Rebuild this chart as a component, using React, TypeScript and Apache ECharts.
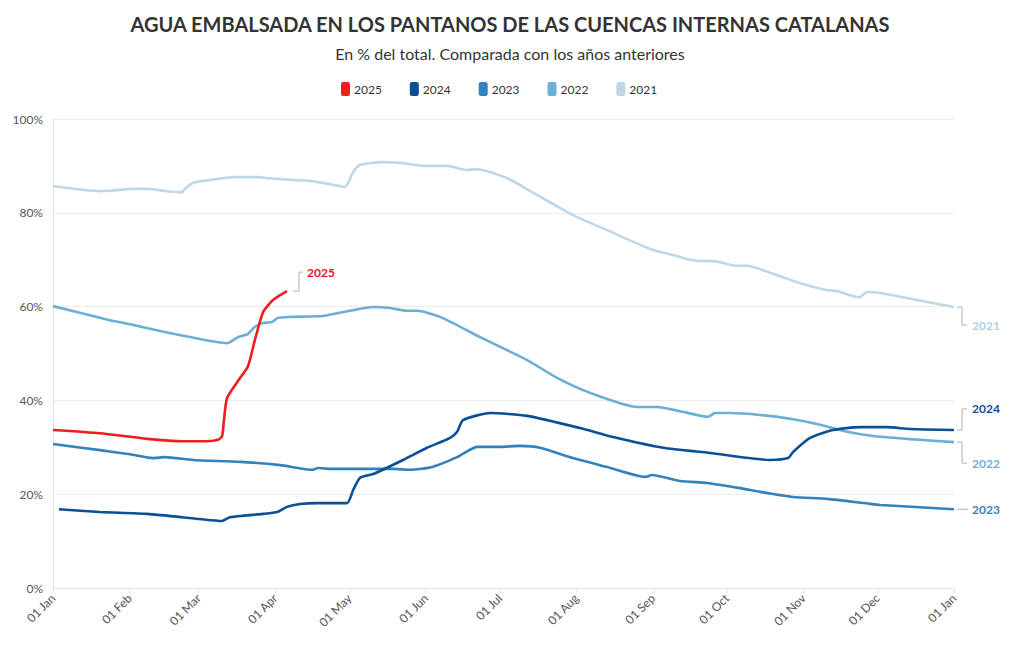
import React, { useEffect, useRef } from "react";
import * as echarts from "echarts";

const MONTH_TICKS = [0, 31, 59, 90, 120, 151, 181, 212, 243, 273, 304, 334, 365];
const MONTH_LABELS = ["01 Jan", "01 Feb", "01 Mar", "01 Apr", "01 May", "01 Jun", "01 Jul", "01 Aug", "01 Sep", "01 Oct", "01 Nov", "01 Dec", "01 Jan"];
const Y_TICKS = [0, 20, 40, 60, 80, 100];

const YEARS = ["2025", "2024", "2023", "2022", "2021"];
const COLORS: Record<string, string> = {
  "2025": "#ee1c1c",
  "2024": "#0b4f96",
  "2023": "#3182bd",
  "2022": "#6baed6",
  "2021": "#bdd7e7",
};
const LABEL_COLORS: Record<string, string> = {
  "2025": "#e8141a",
  "2024": "#0b4f96",
  "2023": "#3182bd",
  "2022": "#6baed6",
  "2021": "#b3cfe3",
};

// [day of year, % of total]
const DATA_2021: [number, number][] = [
  [0, 85.7], [19, 84.6], [23, 84.7], [32.4, 85.1], [38.1, 85.1], [46.2, 84.6], [52.3, 84.4], [53.5, 85.1],
  [56.7, 86.4], [66.5, 87.2], [72.9, 87.6], [83.9, 87.6], [86.7, 87.4], [97.2, 87.0], [104.1, 86.8],
  [112.2, 86.1], [118.3, 85.5], [121.6, 88.7], [124.4, 90.2], [133.7, 90.8], [141.8, 90.6], [149.9, 90.0],
  [159.6, 90.0], [167.7, 89.1], [171.8, 89.3], [184, 87.4], [196.1, 83.8], [210.7, 79.5], [224.5, 76.3],
  [241.9, 72.3], [254, 70.6], [256.9, 70.1], [263.4, 69.7], [267.5, 69.7], [277.1, 68.7], [281.2, 68.7],
  [291.7, 67.0], [302.7, 65.0], [313.6, 63.5], [317.7, 63.3], [326.6, 62.0], [329.8, 63.1], [335.1, 62.9],
  [344.4, 62.0], [365, 59.9],
];

const DATA_2022: [number, number][] = [
  [0, 60.1], [23.1, 57.1], [32.4, 56.1], [43.4, 54.8], [55.5, 53.5], [70.5, 52.2], [75, 53.5], [79, 54.2],
  [81.8, 55.7], [85.1, 56.5], [88.7, 56.7], [91.2, 57.6], [96, 57.8], [109.4, 58.0], [115.1, 58.6],
  [120.3, 59.1], [129.7, 59.9], [136.5, 59.7], [143.4, 59.1], [147.5, 59.1], [156.8, 57.8], [173, 53.5],
  [192.1, 48.6], [204.2, 44.8], [217.6, 41.6], [236.6, 38.6], [244.7, 38.6], [254, 37.7], [265.4, 36.5],
  [268.2, 37.3], [274.3, 37.3], [286.5, 36.9], [299.8, 36.0], [310.8, 34.8], [321.7, 33.3], [332.3, 32.4],
  [346, 31.8], [365, 31.1],
];

const DATA_2023: [number, number][] = [
  [0, 30.7], [19, 29.4], [31.2, 28.5], [40.5, 27.7], [45.4, 27.9], [56.7, 27.3], [75.8, 26.9], [92, 26.2],
  [105.3, 25.2], [107.4, 25.6], [112.2, 25.4], [124.4, 25.4], [137.4, 25.4], [144.7, 25.2], [153.6, 25.8],
  [163.7, 27.9], [171.8, 30.1], [181.1, 30.1], [189.2, 30.3], [197.3, 29.9], [210.7, 27.7], [224.5, 25.8],
  [239.9, 23.7], [242.7, 24.1], [254, 22.8], [265, 22.4], [278.4, 21.3], [286.5, 20.5], [299.8, 19.4],
  [313.6, 19.0], [330, 18.0], [335.1, 17.7], [365, 16.8],
];

const DATA_2024: [number, number][] = [
  [2.4, 16.8], [19, 16.2], [38.1, 15.8], [59.6, 14.7], [68.5, 14.3], [71.7, 15.1], [85.1, 15.8], [90.8, 16.2],
  [94.8, 17.3], [100.1, 17.9], [107, 18.1], [119.1, 18.1], [121.6, 20.9], [124.4, 23.5], [129.7, 24.3],
  [141.8, 27.3], [151.5, 29.9], [160.9, 32.0], [163.7, 33.3], [166.1, 35.8], [177.1, 37.3], [192.1, 36.7],
  [213.5, 34.1], [226.9, 32.2], [247.2, 29.9], [266.2, 28.8], [290.5, 27.3], [297.8, 27.7], [299.8, 29.0],
  [306.7, 32.0], [316, 33.7], [327, 34.3], [337.9, 34.3], [347.2, 33.9], [365, 33.7],
];

const DATA_2025: [number, number][] = [
  [0, 33.7], [19, 33.0], [38.1, 31.8], [52.7, 31.3], [62.4, 31.3], [66.9, 31.6], [68.5, 32.4], [69.3, 36.0],
  [70.5, 40.5], [74.6, 43.9], [79, 47.3], [81.8, 52.9], [85.1, 58.8], [89.1, 61.4], [94.8, 63.3],
];

const SERIES_DATA: Record<string, [number, number][]> = {
  "2021": DATA_2021,
  "2022": DATA_2022,
  "2023": DATA_2023,
  "2024": DATA_2024,
  "2025": DATA_2025,
};

// drawing order: oldest first so 2025 sits on top
const DRAW_ORDER = ["2021", "2022", "2023", "2024", "2025"];

const FONT = "Lato, 'Noto Sans', sans-serif";

export default function App() {
  const ref = useRef<HTMLDivElement>(null);

  useEffect(() => {
    if (!ref.current) return;
    const chart = echarts.init(ref.current, undefined, { renderer: "svg" });
    const option: any = {
      animation: false,
      textStyle: { fontFamily: FONT },
      title: [
        {
          text: "AGUA EMBALSADA EN LOS PANTANOS DE LAS CUENCAS INTERNAS CATALANAS",
          left: "center",
          top: 9,
          textStyle: { fontSize: 20, fontWeight: "bold", color: "#333", fontFamily: FONT },
        },
        {
          text: "En % del total. Comparada con los años anteriores",
          left: "center",
          top: 40,
          textStyle: { fontSize: 16, fontWeight: "normal", color: "#333", fontFamily: FONT },
        },
      ],
      legend: {
        data: YEARS,
        top: 77,
        left: 336,
        icon: "roundRect",
        itemWidth: 9,
        itemHeight: 14,
        itemGap: 28,
        textStyle: { fontSize: 12, color: "#333", fontFamily: FONT, padding: [0, 0, 0, -1] },
      },
      grid: { left: 53, right: 66, top: 119, bottom: 62, containLabel: false },
      xAxis: {
        type: "value",
        min: 0,
        max: 365,
        axisLine: { show: true, lineStyle: { color: "#e3e3e3" } },
        axisTick: { show: true, customValues: MONTH_TICKS, length: 5, lineStyle: { color: "#e3e3e3" } },
        splitLine: { show: false },
        axisLabel: {
          customValues: MONTH_TICKS,
          rotate: 45,
          fontSize: 12,
          color: "#555",
          fontFamily: FONT,
          margin: 8,
          formatter: (v: number) => {
            const i = MONTH_TICKS.indexOf(Math.round(v));
            return i >= 0 ? MONTH_LABELS[i] : "";
          },
        },
      },
      yAxis: {
        type: "value",
        min: Y_TICKS[0],
        max: Y_TICKS[Y_TICKS.length - 1],
        interval: 20,
        axisLine: { show: true, lineStyle: { color: "#e3e3e3" } },
        axisTick: { show: false },
        splitLine: { show: true, lineStyle: { color: "#ececec" } },
        axisLabel: { fontSize: 12, color: "#555", fontFamily: FONT, margin: 10, formatter: "{value}%" },
      },
      series: DRAW_ORDER.map((y) => ({
        name: y,
        type: "line",
        data: SERIES_DATA[y],
        showSymbol: false,
        symbol: "none",
        smooth: 0.2,
        lineStyle: { width: 2.6, color: COLORS[y] },
        itemStyle: { color: COLORS[y] },
        z: 2 + DRAW_ORDER.indexOf(y),
      })),
    };
    chart.setOption(option);

    // annotation brackets computed from the last points of each series
    const graphics: any[] = [];
    const bracketColor = "#b0b0b0";
    const endPx = (y: string) => {
      const d = SERIES_DATA[y];
      const idx = DRAW_ORDER.indexOf(y);
      return chart.convertToPixel({ seriesIndex: idx }, d[d.length - 1]) as number[];
    };

    // 2025: bracket up-right
    {
      const p = endPx("2025");
      const x0 = p[0] + 6, x1 = p[0] + 12, yTop = p[1] - 19;
      graphics.push({
        type: "polyline",
        shape: { points: [[x0, p[1]], [x1, p[1]], [x1, yTop], [x1 + 4, yTop]] },
        style: { stroke: bracketColor, lineWidth: 1, fill: null },
      });
      graphics.push({
        type: "text",
        x: x1 + 8,
        y: yTop,
        style: { text: "2025", fill: LABEL_COLORS["2025"], font: `bold 12px ${FONT}`, textVerticalAlign: "middle", verticalAlign: "middle" },
      });
    }

    const rightLabel = (y: string, dy: number) => {
      const p = endPx(y);
      const x0 = p[0] + 3, x1 = p[0] + 8, yl = p[1] + dy;
      const pts = dy === 0 ? [[x0, p[1]], [x1 + 6, p[1]]] : [[x0, p[1]], [x1, p[1]], [x1, yl], [x1 + 5, yl]];
      graphics.push({
        type: "polyline",
        shape: { points: pts },
        style: { stroke: bracketColor, lineWidth: 1, fill: null },
      });
      graphics.push({
        type: "text",
        x: x1 + 10,
        y: yl,
        style: { text: y, fill: LABEL_COLORS[y], font: `bold 12px ${FONT}`, textVerticalAlign: "middle", verticalAlign: "middle" },
      });
    };
    rightLabel("2021", 18);
    rightLabel("2024", -21);
    rightLabel("2022", 21);
    rightLabel("2023", 0);

    chart.setOption({ graphic: graphics });

    return () => chart.dispose();
  }, []);

  return <div ref={ref} style={{ position: "absolute", left: 0, top: 0, width: 1020, height: 650 }} />;
}
